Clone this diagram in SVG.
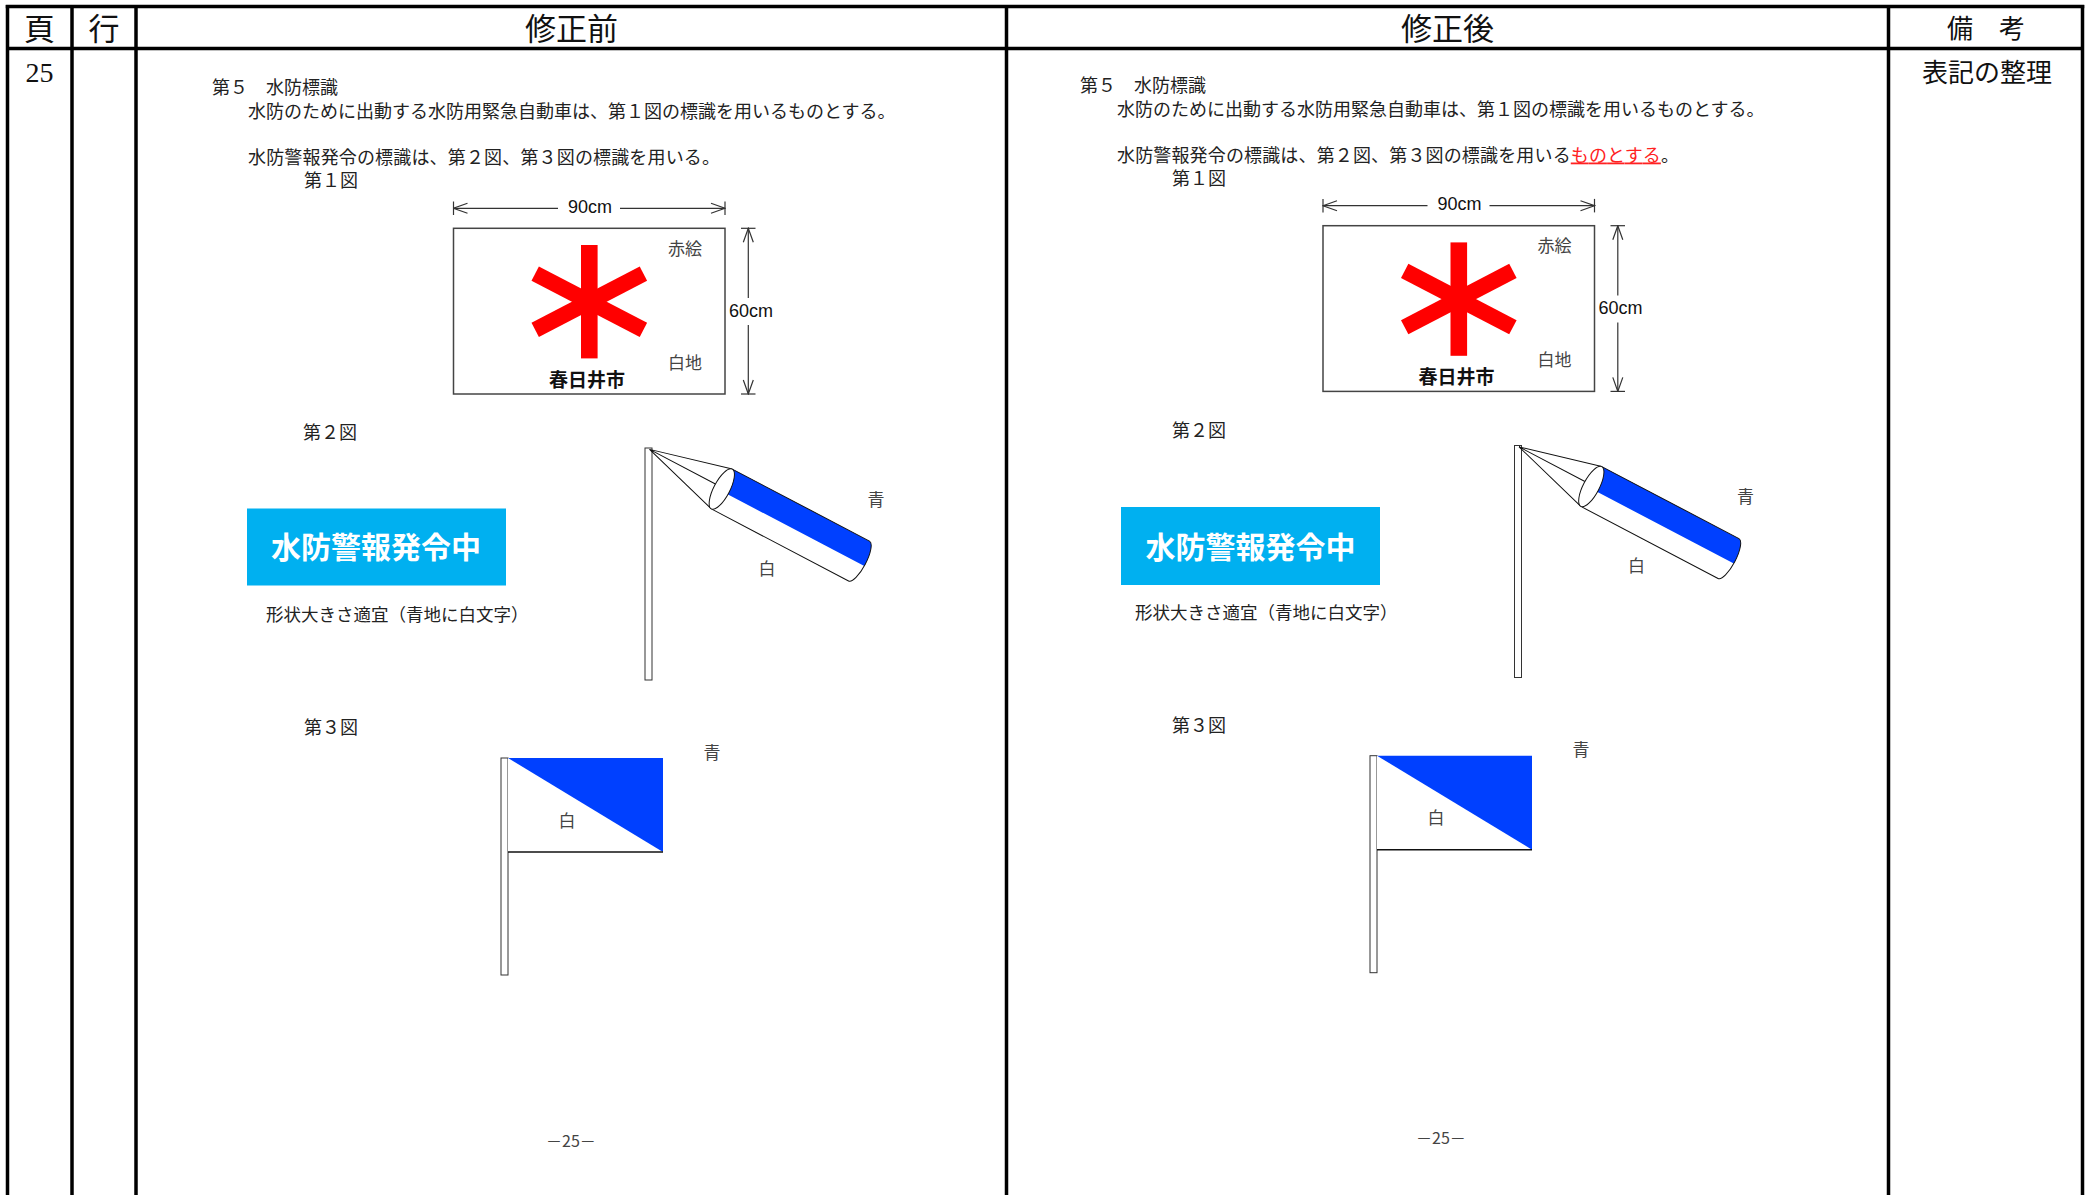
<svg xmlns="http://www.w3.org/2000/svg" width="2091" height="1195" viewBox="0 0 2091 1195">
<style>
.t{font-family:"Noto Sans CJK JP","Noto Sans CJK SC",sans-serif;font-size:18px;fill:#222}
.h{font-family:"Noto Sans CJK JP","Noto Sans CJK SC",sans-serif;font-size:31px;fill:#111;text-anchor:middle}
.lab{font-family:"Noto Sans CJK JP","Noto Sans CJK SC",sans-serif;font-size:17px;fill:#444;text-anchor:middle}
.city{font-family:"Noto Sans CJK JP","Noto Sans CJK SC",sans-serif;font-size:19px;font-weight:bold;fill:#111;text-anchor:middle}
.cm{font-family:"Liberation Sans",Arial,sans-serif;font-size:18px;fill:#111;text-anchor:middle}
.sign{font-family:"Noto Sans CJK JP","Noto Sans CJK SC",sans-serif;font-size:30px;font-weight:bold;fill:#fff;text-anchor:middle}
.pg{font-family:"Noto Sans CJK JP","Noto Sans CJK SC",sans-serif;font-size:16px;fill:#444;text-anchor:middle}
.grid{stroke:#000;stroke-width:3.5;fill:none}
.dim{stroke:#333;stroke-width:1.2;fill:none}
.board{fill:#fff;stroke:#444;stroke-width:1.5}
.pole{fill:#fff;stroke:#333;stroke-width:1}
.ol{fill:none;stroke:#111;stroke-width:1}
.red{fill:#ff0000}
.blue{fill:#0040ff}
</style>
<defs>
<marker id="arr" viewBox="0 0 16 12" refX="15" refY="6" markerWidth="16" markerHeight="12" markerUnits="userSpaceOnUse" orient="auto-start-reverse">
<path d="M1,1 L15,6 L1,11" fill="none" stroke="#333" stroke-width="1.2"/>
</marker>
</defs>
<rect width="2091" height="1195" fill="#fff"/>

<g id="table">
<line class="grid" x1="5.75" y1="6.5" x2="2084.25" y2="6.5"/>
<line class="grid" x1="7.5" y1="48.5" x2="2082.5" y2="48.5"/>
<line class="grid" x1="7.5" y1="5" x2="7.5" y2="1195"/>
<line class="grid" x1="72" y1="5" x2="72" y2="1195"/>
<line class="grid" x1="136" y1="5" x2="136" y2="1195"/>
<line class="grid" x1="1006.5" y1="5" x2="1006.5" y2="1195"/>
<line class="grid" x1="1888.5" y1="5" x2="1888.5" y2="1195"/>
<line class="grid" x1="2082.5" y1="5" x2="2082.5" y2="1195"/>
</g>

<g id="headers">
<text class="h" x="39.5" y="40">頁</text>
<text class="h" x="104" y="40">行</text>
<text class="h" x="571.5" y="40">修正前</text>
<text class="h" x="1447.5" y="40">修正後</text>
<text class="h" x="1986" y="38" style="font-size:26px">備　考</text>
<text x="39.5" y="82" style="font-family:'Liberation Serif',serif;font-size:28px;fill:#111;text-anchor:middle">25</text>
<text class="h" x="1987" y="81.5" style="font-size:26px">表記の整理</text>
</g>

<g id="text-before">
<text class="t" x="212" y="94">第５　水防標識</text>
<text class="t" x="248" y="117.5">水防のために出動する水防用緊急自動車は、第１図の標識を用いるものとする。</text>
<text class="t" x="248" y="163.5" textLength="472" lengthAdjust="spacing">水防警報発令の標識は、第２図、第３図の標識を用いる。</text>
<text class="t" x="304" y="187">第１図</text>
<text class="t" x="303" y="439">第２図</text>
<text class="t" x="266" y="621" style="font-size:17.5px">形状大きさ適宜（青地に白文字）</text>
<text class="t" x="304" y="734">第３図</text>
<text class="pg" x="571" y="1147">－25－</text>
</g>

<g id="fig1-before">
<rect class="board" x="453.5" y="228.3" width="271.5" height="165.7"/>
<g transform="translate(589.3,301.7)">
<rect class="red" x="-8.3" y="-56.7" width="16.6" height="113.4"/>
<rect class="red" x="-61" y="-8" width="122" height="16" transform="rotate(27.5)"/>
<rect class="red" x="-61" y="-8" width="122" height="16" transform="rotate(-27.5)"/>
</g>
<text class="lab" x="685" y="254.8">赤絵</text>
<text class="lab" x="685" y="368.8">白地</text>
<text class="city" x="587" y="386.5">春日井市</text>
<g id="dim-before">
<line class="dim" x1="453.5" y1="201.5" x2="453.5" y2="215"/>
<line class="dim" x1="725" y1="201.5" x2="725" y2="215"/>
<path class="dim" d="M453.5,208.3 H558" marker-start="url(#arr)"/>
<path class="dim" d="M620,208.3 H725" marker-end="url(#arr)"/>
<line class="dim" x1="741" y1="228.3" x2="755.5" y2="228.3"/>
<line class="dim" x1="741" y1="394" x2="755.5" y2="394"/>
<path class="dim" d="M748.3,228.3 V298" marker-start="url(#arr)"/>
<path class="dim" d="M748.3,325 V394" marker-end="url(#arr)"/>
<text class="cm" x="590" y="213">90cm</text>
<text class="cm" x="751" y="316.5">60cm</text>
</g>
</g>

<g id="fig2-before">
<rect x="247" y="508.5" width="259" height="77" fill="#00b0f0"/>
<text class="sign" x="376" y="558.4">水防警報発令中</text>
<rect class="pole" x="645" y="448" width="7" height="232"/>
<g transform="translate(721.8,489) rotate(27.7)">
<path class="blue" d="M0,-22.5 H155 A7,22.5 0 0 1 162,0 L162,2 H0 Z"/>
<path class="ol" d="M-82.4,-1.5 L0,-22.5 M-82.4,-1.5 L-8,-1.5 M-82.4,-1.5 L0,22.5"/>
<path class="ol" d="M0,-22.5 H155 A7,22.5 0 0 1 155,22.5 H0"/>
<ellipse cx="0" cy="0" rx="8" ry="22.5" fill="#fff" stroke="#111" stroke-width="1"/>
</g>
<text class="lab" x="876" y="505.5">青</text>
<text class="lab" x="767" y="574.5">白</text>
</g>

<g id="fig3-before">
<rect class="pole" x="501" y="758" width="7" height="217"/>
<rect x="508" y="758" width="155" height="94" fill="#fff"/>
<path class="blue" d="M508,758 H663 V852 Z"/>
<line x1="508" y1="852" x2="663" y2="852" stroke="#111" stroke-width="1.5"/>
<text class="lab" x="567" y="826.5">白</text>
<text class="lab" x="712" y="758.5">青</text>
</g>

<g id="text-after">
<text class="t" x="1080" y="92">第５　水防標識</text>
<text class="t" x="1117" y="115.5">水防のために出動する水防用緊急自動車は、第１図の標識を用いるものとする。</text>
<text class="t" x="1117" y="161.5" textLength="562" lengthAdjust="spacing">水防警報発令の標識は、第２図、第３図の標識を用いる<tspan fill="#f22" text-decoration="underline">ものとする</tspan>。</text>
<text class="t" x="1172" y="185">第１図</text>
<text class="t" x="1172" y="436.5">第２図</text>
<text class="t" x="1135" y="618.5" style="font-size:17.5px">形状大きさ適宜（青地に白文字）</text>
<text class="t" x="1172" y="731.5">第３図</text>
<text class="pg" x="1441" y="1144">－25－</text>
</g>

<g id="fig1-after" transform="translate(869.5,-2.6)">
<rect class="board" x="453.5" y="228.3" width="271.5" height="165.7"/>
<g transform="translate(589.3,301.7)">
<rect class="red" x="-8.3" y="-56.7" width="16.6" height="113.4"/>
<rect class="red" x="-61" y="-8" width="122" height="16" transform="rotate(27.5)"/>
<rect class="red" x="-61" y="-8" width="122" height="16" transform="rotate(-27.5)"/>
</g>
<text class="lab" x="685" y="254.8">赤絵</text>
<text class="lab" x="685" y="368.8">白地</text>
<text class="city" x="587" y="386.5">春日井市</text>
<g id="dim-after">
<line class="dim" x1="453.5" y1="201.5" x2="453.5" y2="215"/>
<line class="dim" x1="725" y1="201.5" x2="725" y2="215"/>
<path class="dim" d="M453.5,208.3 H558" marker-start="url(#arr)"/>
<path class="dim" d="M620,208.3 H725" marker-end="url(#arr)"/>
<line class="dim" x1="741" y1="228.3" x2="755.5" y2="228.3"/>
<line class="dim" x1="741" y1="394" x2="755.5" y2="394"/>
<path class="dim" d="M748.3,228.3 V298" marker-start="url(#arr)"/>
<path class="dim" d="M748.3,325 V394" marker-end="url(#arr)"/>
<text class="cm" x="590" y="213">90cm</text>
<text class="cm" x="751" y="316.5">60cm</text>
</g>
</g>

<g id="fig2-after">
<rect x="1121" y="507" width="259" height="78" fill="#00b0f0"/>
<text class="sign" x="1250.5" y="558">水防警報発令中</text>
<g transform="translate(869.5,-2.5)">
<rect class="pole" x="645" y="448" width="7" height="232"/>
<g transform="translate(721.8,489) rotate(27.7)">
<path class="blue" d="M0,-22.5 H155 A7,22.5 0 0 1 162,0 L162,2 H0 Z"/>
<path class="ol" d="M-82.4,-1.5 L0,-22.5 M-82.4,-1.5 L-8,-1.5 M-82.4,-1.5 L0,22.5"/>
<path class="ol" d="M0,-22.5 H155 A7,22.5 0 0 1 155,22.5 H0"/>
<ellipse cx="0" cy="0" rx="8" ry="22.5" fill="#fff" stroke="#111" stroke-width="1"/>
</g>
<text class="lab" x="876" y="505.5">青</text>
<text class="lab" x="767" y="574.5">白</text>
</g>
</g>

<g id="fig3-after" transform="translate(869,-2.3)">
<rect class="pole" x="501" y="758" width="7" height="217"/>
<rect x="508" y="758" width="155" height="94" fill="#fff"/>
<path class="blue" d="M508,758 H663 V852 Z"/>
<line x1="508" y1="852" x2="663" y2="852" stroke="#111" stroke-width="1.5"/>
<text class="lab" x="567" y="826.5">白</text>
<text class="lab" x="712" y="758.5">青</text>
</g>
</svg>
